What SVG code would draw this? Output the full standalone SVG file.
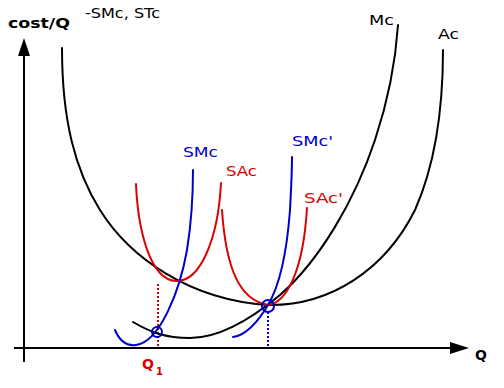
<svg xmlns="http://www.w3.org/2000/svg" width="504" height="388" viewBox="0 0 504 388">
<defs>
<style>
.c{fill:none;stroke-width:2;stroke-linecap:round}
.k{stroke:#000}
.b{stroke:#0000cc}
.r{stroke:#dd0000}
.t{font-family:"DejaVu Sans","Liberation Sans",sans-serif;font-size:14px}
.tb{fill:#0000cc}
.tr{fill:#dd0000}
</style>
</defs>
<rect width="504" height="388" fill="#fff"/>
<g id="axes">
<line x1="24" y1="362" x2="24" y2="50" stroke="#000" stroke-width="2"/>
<polygon points="24,38 18,56 30,56" fill="#000"/>
<line x1="14" y1="348" x2="456" y2="348" stroke="#000" stroke-width="2"/>
<polygon points="469,348 450,342 450,354" fill="#000"/>
</g>
<g id="labels">
<text class="t" x="8" y="28" font-size="15" font-weight="bold" textLength="62" lengthAdjust="spacingAndGlyphs">cost/Q</text>
<text class="t" x="85" y="18" font-size="11" textLength="75" lengthAdjust="spacingAndGlyphs">-SMc, STc</text>
<text class="t" x="369" y="25" textLength="25" lengthAdjust="spacingAndGlyphs">Mc</text>
<text class="t" x="438" y="39" textLength="21" lengthAdjust="spacingAndGlyphs">Ac</text>
<text class="t" x="475" y="360" font-size="12" font-weight="bold">Q</text>
</g>
<g id="connectors">
<line x1="158" y1="284" x2="158" y2="348" stroke="#aa1111" stroke-width="2" stroke-dasharray="2,2"/>
<line x1="268" y1="312" x2="268" y2="348" stroke="#0000cc" stroke-width="2" stroke-dasharray="2,2"/>
</g>
<g id="Ac">
<path class="c k" d="M62,48 C62,120 75,170 100,210 C130,258 190,300 268,305 C330,306 385,270 415,210 C435,165 443,110 443,50"/>
</g>
<g id="Mc">
<path class="c k" d="M133,322 C150,332 165,338 190,338 C220,338 250,320 280,295 C320,260 355,200 375,140 C390,95 396,55 398,25"/>
</g>
<g id="SAc">
<path class="c r" d="M136,184 C138,230 150,280 176,281 C200,282 218,240 221,183"/>
<text class="t tr" x="226" y="176" textLength="31" lengthAdjust="spacingAndGlyphs">SAc</text>
</g>
<g id="SAc2">
<path class="c r" d="M222,210 C226,270 240,300 268,305 C285,303 303,275 307,208"/>
<text class="t tr" x="304" y="203" textLength="39" lengthAdjust="spacingAndGlyphs">SAc'</text>
</g>
<g id="SMc">
<path class="c b" d="M115,330 C120,342 128,346 136,345 C160,342 180,290 187,250 C191,225 193,195 193,170"/>
<text class="t tb" x="183" y="157" textLength="35" lengthAdjust="spacingAndGlyphs">SMc</text>
</g>
<g id="SMc2">
<path class="c b" d="M233,337 C245,336 258,322 268,305 C280,285 287,250 290,210 C291,190 292,175 292,157"/>
<text class="t tb" x="292" y="146" textLength="41" lengthAdjust="spacingAndGlyphs">SMc'</text>
</g>
<g id="points">
<circle cx="157" cy="332" r="5" fill="none" stroke="#0000cc" stroke-width="2"/>
<circle cx="268" cy="306" r="6" fill="none" stroke="#0000cc" stroke-width="2"/>
<text class="t tr" x="142" y="369" font-size="12" font-weight="bold">Q<tspan font-size="10" dy="6" dx="2">1</tspan></text>
</g>
</svg>
